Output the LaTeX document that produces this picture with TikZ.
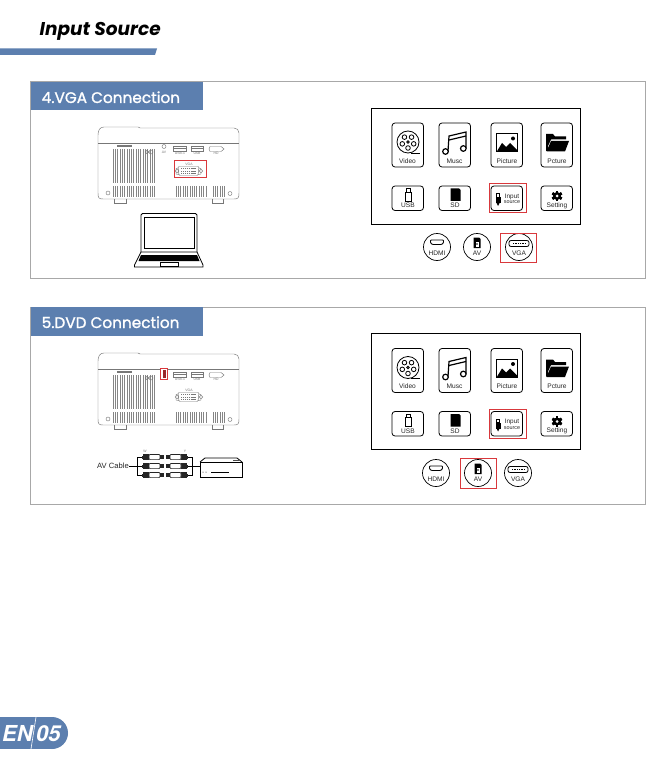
\documentclass[tikz,border=0pt]{standalone}
\usepackage{fontspec}
\setmainfont{Liberation Sans}
\newfontfamily\headfont{Poppins}
\newfontfamily\headlight[FakeBold=1.3]{Poppins}
\newfontfamily\footfont{TeX Gyre Heros}
\definecolor{bluebar}{HTML}{5C7FAF}
\definecolor{panelgray}{HTML}{A8A8A8}
\definecolor{redbox}{HTML}{D9383C}
\definecolor{linegray}{HTML}{777777}
\tikzset{
  panel/.style={draw=panelgray,line width=1pt},
  redframe/.style={draw=redbox,line width=1pt},
  appbox/.style={draw=black,line width=0.8pt,rounded corners=3pt,fill=white},
  circ/.style={draw=black,line width=0.7pt,circle,minimum size=27pt,inner sep=0pt},
  lab/.style={font=\fontsize{6.6}{7}\selectfont,inner sep=0pt,text=black!85},
  tiny/.style={font=\fontsize{3.4}{4}\selectfont,inner sep=0pt,text=linegray},
  pl/.style={draw=linegray,line width=0.45pt},
  headtext/.style={font=\headlight\fontsize{15.3}{17}\selectfont,text=white,inner sep=0pt,anchor=base west},
  pics/vent/.style n args={3}{code={
    \foreach \xx in {0,#3,...,#1}{\draw[draw=linegray!90,line width=0.5pt] (\xx,0) -- (\xx,#2);}
  }},
  pics/projector/.style={code={
    \draw[pl] (0,20) -- (0,66) .. controls (0,71) and (1,72) .. (5,72) -- (136,72) .. controls (140,72) and (141,71) .. (141,66) -- (141,6) .. controls (141,3) and (139,1) .. (136,1) -- (42,1) -- (40,0) -- (6,0) .. controls (2,0) and (0,3) .. (0,8) -- cycle;
    \draw[pl] (0,16) -- (141,16);
    \draw[pl] (16,72) -- (16,76) -- (28,76) -- (28,72);
    \draw[pl] (114,72) -- (114,76) -- (125,76) -- (125,72);
    \pic at (15,22) {vent={42}{34}{2.3}};
    \pic at (15,59) {vent={42}{11}{2.3}};
    \pic at (78,59) {vent={30}{11}{2.3}};
    \pic at (115,59) {vent={13}{11}{2.3}};
    \draw[pl,fill=linegray!60] (19,18) rectangle (33,19.5);
    \draw[pl] (49,25) circle (1.7) (53,25) circle (2);
    \draw[pl] (66,19.5) circle (2);
    \draw[pl] (75,19.5) rectangle (88,24.5) (75,21.5) -- (88,21.5);
    \draw[pl] (93,19.5) rectangle (105,24.5) (93,21.5) -- (105,21.5);
    \draw[pl] (112,19.5) -- (123,19.5) -- (126,22) -- (123,24.5) -- (112,24.5) -- (111,22) -- cycle;
    \node[tiny] (avlab) at (66,25.5) {AV};
    \node[tiny] (usb1lab) at (82,26.5) {USB-1};
    \node[tiny] (usb2lab) at (99,26.5) {USB};
    \node[tiny] (hdlab) at (118,26.5) {HD};
    \node[tiny] (vgalab) at (91,37) {VGA};
    \draw[pl,rounded corners=1pt] (80,39.5) -- (101,39.5) -- (100,48.5) -- (81,48.5) -- cycle;
    \draw[pl] (80,41) -- (78,41.5) -- (78,47) -- (81,47.5) (101,41) -- (103,41.5) -- (103,47) -- (100,47.5);
    \draw[pl] (79,44) circle (1.9) (103,44) circle (1.9);
    \foreach \yy in {41.5,44,46.5}{\draw[linegray,line width=0.9pt,dash pattern=on 1.2pt off 0.7pt] (83,\yy) -- (98,\yy);}
    \draw[pl] (10,66) circle (2) (132,66.5) circle (2);
  }},
  pics/screen/.style={code={
    \draw[black,line width=0.9pt] (0,0) rectangle (209,116);
    \foreach \xx in {21,68,120,170}{
      \draw[appbox] (\xx,15) rectangle ++(31.5,44);
    }
    \node[lab] (t1) at (36.5,53) {Video};
    \node[lab] (t2) at (83.5,53) {Musc};
    \node[lab] (t3) at (136,53) {Picture};
    \node[lab] (t4) at (186,53) {Pcture};
    % video reel
    \draw[black,line width=0.8pt] (37,34) circle (11) (37,34) circle (1.3);
    \foreach \a in {90,162,234,306,18}{\draw[black,line width=0.8pt] (37,34)++(\a:6) circle (2.3);}
    \draw[black,line width=0.9pt] (40,45) -- (48.5,45);
    % music
    \draw[black,line width=1.2pt] (77,43) -- (78,28) -- (95,24) -- (95,40);
    \draw[black,line width=1.2pt] (78,32) -- (95,28);
    \draw[black,line width=1.2pt] (74.5,43.5) circle (2.8) (92.3,40.5) circle (2.8);
    % picture
    \draw[black,line width=1pt] (125.5,25.5) rectangle (146,44);
    \fill[black] (125.5,44) -- (131,35) -- (135,39) -- (139,35) -- (146,42) -- (146,44) -- cycle;
    \fill[black] (142,30.5) circle (2);
    % folder
    \fill[black] (175,43) -- (175,26) -- (182,26) -- (184,28.5) -- (195,28.5) -- (195,31.5) -- (180,31.5) -- (177,38) -- (177,43) -- cycle;
    \fill[black] (175.5,43.5) -- (180,33) -- (198,33) -- (194,43.5) -- cycle;
    \foreach \xx in {21,68,120,170}{\draw[appbox] (\xx,78) rectangle ++(31.5,24.5);}
    \node[lab] (t5) at (37,97.5) {USB};
    \node[lab] (t6) at (84,97.5) {SD};
    \node[font=\fontsize{6.4}{7}\selectfont,inner sep=0pt,text=black!85] (t7) at (141,88.5) {Input};
    \node[font=\fontsize{5.4}{6}\selectfont,inner sep=0pt,text=black!85] (t8) at (141,94.5) {source};
    \node[lab] (t9) at (186,97.5) {Setting};
    % usb stick
    \draw[black,line width=0.7pt] (34,84) rectangle (40,93) (35,80.5) rectangle (39,84);
    % sd
    \fill[black] (79.5,80.5) -- (88,80.5) -- (89.5,82) -- (89.5,93) -- (79.5,93) -- cycle;
    % plug
    \fill[black] (124.5,89) rectangle (129.5,95);
    \fill[black] (125.5,95) -- (128.5,95) -- (127,98) -- cycle;
    \draw[black,line width=0.6pt] (125.5,85.5) rectangle (128.5,89);
    % gear
    \fill[black] (186,88) circle (4);
    \foreach \a in {0,60,...,300}{\fill[black,rotate around={\a:(186,88)}] (184.7,82.7) rectangle (187.3,93.3);}
    \fill[white] (186,88) circle (1.5);
    \draw[redframe] (118,76) rectangle (155,105);
  }},
  pics/hdmicirc/.style={code={
    \node[circ] (c) at (0,0) {};
    \draw[black,line width=0.9pt,rounded corners=0.8pt] (-6.5,-7) -- (6.5,-7) -- (6.5,-4) -- (4.5,-2.5) -- (-4.5,-2.5) -- (-6.5,-4) -- cycle;
    \node[lab] (tc) at (0,6.5) {HDMI};
  }},
  pics/avcirc/.style={code={
    \node[circ] (c) at (0,0) {};
    \fill[black] (-3.5,-9.5) -- (2,-9.5) -- (3.5,-8) -- (3.5,1) -- (-3.5,1) -- cycle;
    \fill[white] (-1.5,-5.5) rectangle (1.5,-0.5);
    \fill[black] (0,-3) circle (0.9);
    \node[lab] (tc) at (0,6.5) {AV};
  }},
  pics/vgacirc/.style={code={
    \node[circ] (c) at (0,0) {};
    \draw[black,line width=0.8pt,rounded corners=2pt] (-10,-6.5) -- (10,-6.5) -- (10,-0.5) -- (-10,-0.5) -- cycle;
    \draw[black,line width=1.5pt,dash pattern=on 1pt off 0.7pt] (-6,-3.5) -- (6,-3.5);
    \node[lab] (tc) at (0,6.5) {VGA};
  }},
  pics/rca/.style={code={
    \fill[black!85] (0,-3) rectangle (6,3);
    \fill[black!85] (-1,-1.5) rectangle (0,1.5);
    \draw[black!85,line width=0.7pt,fill=white,rounded corners=1pt] (6,-2.6) rectangle (17,2.6);
    \fill[black!85] (17,-2) rectangle (21,2);
  }}
}
\begin{document}
\begin{tikzpicture}[x=1pt,y=-1pt]
\useasboundingbox (0,0) rectangle (662,759);
\fill[white] (0,0) rectangle (662,759);
% title
\node[font=\headfont\bfseries\itshape\fontsize{18.5}{20}\selectfont,inner sep=0pt,anchor=base west] (title) at (39.5,36) {Input Source};
\fill[bluebar] (0,48.5) -- (157,48.5) -- (155,55) -- (0,55) -- cycle;
% panel 4
\draw[panel] (30.5,82) rectangle (645,278);
\fill[bluebar] (30.5,82) rectangle (202.5,110.5);
\node[headtext] (h4) at (41.5,103) {4.VGA Connection};
\pic at (98,127) {projector};
\draw[redframe] (174,160.5) rectangle (206,177.5);
% laptop
\draw[black,line width=0.8pt,rounded corners=1.5pt] (141,252) -- (141,213.5) -- (197,213.5) -- (197,252);
\draw[black,line width=0.8pt] (144,217.5) rectangle (194,248);
\draw[black,line width=0.8pt] (141,252) -- (197,252) -- (203,265) -- (203,267) -- (134.5,267) -- (134.5,265) -- cycle;
\fill[black] (141,255) -- (197,255) -- (199.5,261) -- (138.5,261) -- cycle;
\draw[black,line width=0.7pt] (160,262) rectangle (178,266.5);
\pic at (371,108) {screen};
\pic at (437,247) {hdmicirc};
\pic at (477,247) {avcirc};
\pic at (519,247) {vgacirc};
\draw[redframe] (500,233) rectangle (536,262);
% panel 5
\draw[panel] (30.5,307) rectangle (645,504);
\fill[bluebar] (30.5,307) rectangle (202.5,335.5);
\node[headtext] (h5) at (41.5,328) {5.DVD Connection};
\pic at (98,353) {projector};
\draw[redframe,fill=white] (160.5,368.5) rectangle (167.5,379);
\fill[redbox!70!black] (162.5,370) rectangle (165.5,377.5);
\pic at (371,333.5) {screen};
\pic at (436,473) {hdmicirc};
\pic at (478,473) {avcirc};
\pic at (518,473) {vgacirc};
\draw[redframe] (460,458) rectangle (496,488);
% AV cable
\node[font=\fontsize{7.6}{9}\selectfont,inner sep=0pt,anchor=west,text=black!85] (avc) at (97,466) {AV Cable};
\coordinate (bl) at (137,466);
\coordinate (br) at (192,466);
\node[draw=black,line width=0.8pt,inner sep=0pt,minimum width=42pt,minimum height=15pt,fill=white] (dvd) at (221,469.5) {};
\draw[black,line width=0.8pt] (200,462) -- (205,458) -- (237,458) -- (242,462);
\fill[black!70] (233,459.5) rectangle (239,461);
\draw[black,line width=0.6pt] (211,472) -- (229,472);
\fill[black] (203,472) circle (0.5) (206,472) circle (0.5);
\draw[black,line width=0.6pt] (avc) -- (bl);
\draw[black,line width=0.6pt] (br) -- (dvd.west |- br);
\draw[black,line width=0.6pt] (142,457) -- (137,457) -- (137,475) -- (142,475);
\draw[black,line width=0.6pt] (137,466) -- (142,466);
\draw[black,line width=0.6pt] (188,457) -- (192,457) -- (192,475) -- (188,475);
\draw[black,line width=0.6pt] (188,466) -- (192,466);
\foreach \yy in {457,466,475}{
  \pic at (143,\yy) {rca};
  \pic[xscale=-1] at (187,\yy) {rca};
}
\node[tiny] (wl) at (145,451.5) {W};
\node[tiny] (wr) at (185,451.5) {Y};
% footer
\fill[bluebar] (0,717) rectangle (52,749);
\fill[bluebar] (52,733) circle (16);
\node[font=\footfont\bfseries\itshape\fontsize{22}{24}\selectfont,text=white,inner sep=0pt,anchor=base east] (en) at (33,741.5) {EN};
\node[font=\footfont\bfseries\itshape\fontsize{22}{24}\selectfont,text=white,inner sep=0pt,anchor=base west] (pg) at (36,741.5) {05};
\coordinate (d1) at (36,717);
\coordinate (d2) at (31,749);
\draw[white,line width=0.6pt] (d1) -- (d2);
\end{tikzpicture}
\end{document}
